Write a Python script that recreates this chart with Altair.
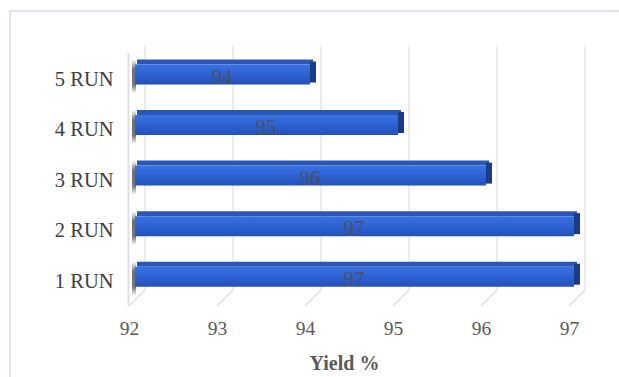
import altair as alt
import pandas as pd

# Yield per run
runs = ["5 RUN", "4 RUN", "3 RUN", "2 RUN", "1 RUN"]
yields = [94, 95, 96, 97, 97]
ticks = [92, 93, 94, 95, 96, 97]
AXIS_MIN = 92
AXIS_MAX = 97

FONT = "Liberation Serif"

bars = pd.DataFrame({"run": runs, "yield": yields, "base": [AXIS_MIN] * len(runs)})
grid = pd.DataFrame({"tick": ticks})

W, H = 440, 260
DX, DY = 5, -5        # depth shift of the bar front face
BACK = 16             # depth of the back wall

x_scale = alt.Scale(domain=[AXIS_MIN, AXIS_MAX], range=[0, W], nice=False, zero=False)
y_scale = alt.Scale(domain=runs, range=[23.5, 245.7], paddingInner=0.604, paddingOuter=0)

x_axis = alt.Axis(
    values=ticks, title="Yield %", domain=False, ticks=False, grid=False, labelFlush=False,
    labelFont=FONT, labelFontSize=19.5, labelColor="#595959", labelPadding=13,
    titleFont=FONT, titleFontSize=20, titleFontWeight="bold", titleColor="#595959",
    titleBaseline="alphabetic", titleY=63, titleX=215,
)
y_axis = alt.Axis(
    title=None, domain=False, ticks=False, grid=False,
    labelFont=FONT, labelFontSize=20.5, labelColor="#404040", labelPadding=16,
)

x_enc = alt.X("base:Q", scale=x_scale, axis=x_axis)
y_enc = alt.Y("run:N", scale=y_scale, axis=y_axis, sort=runs)

grid_color = "#dcdfe8"

# frame around the chart
frame = alt.Chart(grid).mark_rect(
    fill=None, stroke="#dde3ee", strokeWidth=1.5
).encode(
    x=alt.value(-119), x2=alt.value(520), y=alt.value(-35), y2=alt.value(360)
)

# back-wall gridlines
back_lines = alt.Chart(grid).mark_rule(color=grid_color, strokeWidth=1.2, xOffset=BACK).encode(
    x=alt.X("tick:Q", scale=x_scale, axis=x_axis),
    y=alt.value(0),
    y2=alt.value(H - BACK),
)
# floor lines running from the front edge to the back wall
floor_lines = alt.Chart(grid).mark_rule(color=grid_color, strokeWidth=1.2, x2Offset=BACK).encode(
    x=alt.X("tick:Q", scale=x_scale, axis=x_axis),
    x2="tick:Q",
    y=alt.value(H),
    y2=alt.value(H - BACK),
)
# front-left edge of the side wall
side_wall = alt.Chart(grid).mark_rule(color=grid_color, strokeWidth=1.2).encode(
    x=alt.value(-0.5), y=alt.value(7), y2=alt.value(H)
)

front_gradient = alt.Gradient(
    gradient="linear",
    stops=[
        alt.GradientStop(color="#3a72e0", offset=0),
        alt.GradientStop(color="#2d62d2", offset=0.5),
        alt.GradientStop(color="#2351b8", offset=1),
    ],
    x1=0, x2=0, y1=0, y2=1,
)

# shadow where each bar meets the side wall
shadow_gradient = alt.Gradient(
    gradient="linear",
    stops=[
        alt.GradientStop(color="#ffffff", offset=0),
        alt.GradientStop(color="#5f5f5f", offset=0.3),
        alt.GradientStop(color="#6a6a6a", offset=0.75),
        alt.GradientStop(color="#ffffff", offset=1),
    ],
    x1=0, x2=0, y1=0, y2=1,
)
shadow = alt.Chart(bars).mark_bar(
    size=34, color=shadow_gradient, opacity=0.9, xOffset=DX - 2, x2Offset=DX + 2, yOffset=DY + 2
).encode(x=x_enc, x2="base:Q", y=y_enc)

top_face = alt.Chart(bars).mark_bar(
    size=5, color="#2a56b8", xOffset=DX + 3, x2Offset=DX + 3, yOffset=DY - 12.5
).encode(x=x_enc, x2="yield:Q", y=y_enc)

side_face = alt.Chart(bars).mark_bar(
    size=21, color="#1a3c88", xOffset=DX, x2Offset=DX + 6, yOffset=DY - 2.5
).encode(x=alt.X("yield:Q", scale=x_scale, axis=x_axis), x2="yield:Q", y=y_enc)

front_face = alt.Chart(bars).mark_bar(
    size=20, color=front_gradient, xOffset=DX + 1, x2Offset=DX, yOffset=DY
).encode(x=x_enc, x2="yield:Q", y=y_enc)

value_labels = alt.Chart(bars).transform_calculate(
    mid="(datum.base + datum.yield) / 2"
).mark_text(
    font=FONT, fontSize=21, color="#4f4f4f", opacity=0.85,
    baseline="middle", align="center", xOffset=DX, yOffset=DY + 3
).encode(
    x=alt.X("mid:Q", scale=x_scale, axis=x_axis),
    y=y_enc,
    text=alt.Text("yield:Q"),
)

chart = alt.layer(
    frame, back_lines, floor_lines, side_wall, shadow,
    top_face, side_face, front_face, value_labels,
).properties(
    width=W, height=H,
    background="white",
    autosize=alt.AutoSizeParams(type="none"),
    padding={"left": 129, "top": 46, "right": 50, "bottom": 71},
).configure_view(stroke=None, strokeWidth=0)

chart.save("out.html", embed_options={"renderer": "svg", "actions": False})
